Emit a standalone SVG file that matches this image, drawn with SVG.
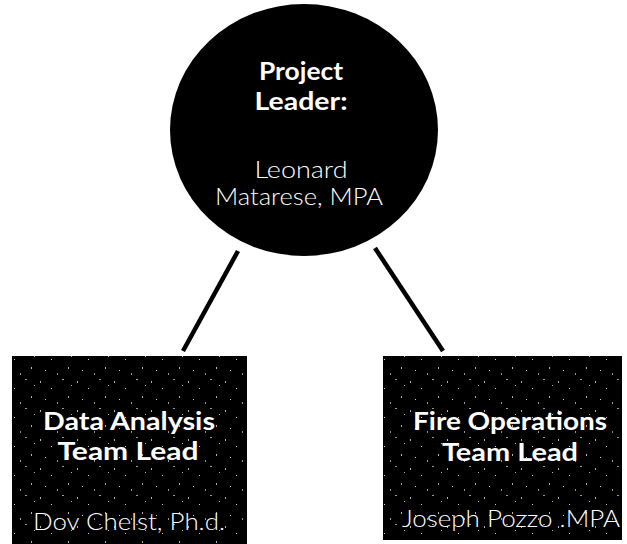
<svg xmlns="http://www.w3.org/2000/svg" width="627" height="544" viewBox="0 0 627 544">
<style>
.t{font-family:"Lato","Open Sans",sans-serif;fill:#fff;text-anchor:middle}
.b{font-weight:bold;font-size:24px}
.l{font-weight:300;font-size:23px}
.c{stroke:#000;stroke-width:4.5;fill:none}
.box{fill:#000}
.spk{fill:url(#speckle)}
</style>
<defs>
<pattern id="speckle" width="37" height="29" patternUnits="userSpaceOnUse">
<rect x="3" y="4" width="1" height="2" fill="#fff" opacity="0.7"/>
<rect x="14" y="11" width="1" height="1" fill="#fff" opacity="0.8"/>
<rect x="25" y="2" width="2" height="1" fill="#fff" opacity="0.6"/>
<rect x="31" y="19" width="1" height="2" fill="#fff" opacity="0.7"/>
<rect x="8" y="22" width="1" height="1" fill="#fff" opacity="0.8"/>
<rect x="20" y="25" width="1" height="2" fill="#fff" opacity="0.6"/>
<rect x="34" y="8" width="1" height="1" fill="#fff" opacity="0.7"/>
</pattern>
</defs>
<rect width="627" height="544" fill="#fff"/>
<g id="connectors">
<line class="c" x1="238" y1="251" x2="183" y2="351"/>
<line class="c" x1="375" y1="248" x2="443" y2="351"/>
</g>
<g id="leader">
<ellipse cx="304" cy="130" rx="134" ry="126" fill="#000"/>
<text class="t b" x="301" y="80" textLength="84" lengthAdjust="spacingAndGlyphs">Project</text>
<text class="t b" x="301" y="110" textLength="93" lengthAdjust="spacingAndGlyphs">Leader:</text>
<text class="t l" x="301" y="178" textLength="93" lengthAdjust="spacingAndGlyphs">Leonard</text>
<text class="t l" x="299" y="205" textLength="168" lengthAdjust="spacingAndGlyphs">Matarese, MPA</text>
</g>
<g id="data">
<rect class="box" x="12" y="356" width="235" height="188"/>
<rect class="spk" x="12" y="356" width="235" height="188"/>
<text class="t b" x="129" y="430" textLength="172" lengthAdjust="spacingAndGlyphs">Data Analysis</text>
<text class="t b" x="128" y="460" textLength="141" lengthAdjust="spacingAndGlyphs">Team Lead</text>
<text class="t l" x="129" y="530" textLength="192" lengthAdjust="spacingAndGlyphs">Dov Chelst, Ph.d.</text>
</g>
<g id="fire">
<rect class="box" x="383" y="356" width="239" height="184"/>
<rect class="spk" x="383" y="356" width="239" height="184"/>
<text class="t b" x="510" y="430" textLength="194" lengthAdjust="spacingAndGlyphs">Fire Operations</text>
<text class="t b" x="510" y="461" textLength="136" lengthAdjust="spacingAndGlyphs">Team Lead</text>
<text class="t l" x="511" y="527" textLength="218" lengthAdjust="spacingAndGlyphs">Joseph Pozzo .MPA</text>
</g>
</svg>
